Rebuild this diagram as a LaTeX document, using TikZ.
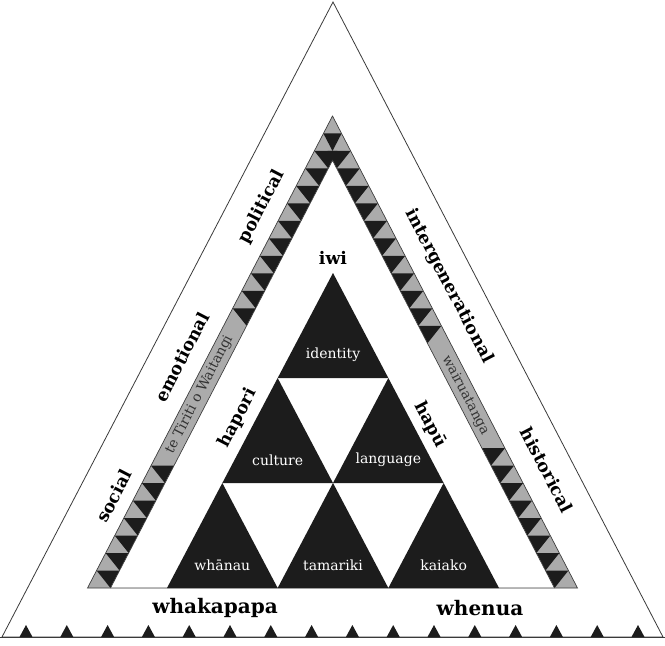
\documentclass[tikz,border=0pt]{standalone}
\usepackage{fontspec}
\setmainfont{DejaVu Serif}
\definecolor{bandgray}{HTML}{ABABAB}
\definecolor{tribl}{HTML}{1C1C1C}
\definecolor{edgegray}{HTML}{3A3A3A}
\tikzset{
  boldlbl/.style={font=\bfseries\fontsize{13}{13}\selectfont, inner sep=0pt},
  baselbl/.style={font=\bfseries\fontsize{15}{15}\selectfont, inner sep=0pt},
  lside/.style={boldlbl, rotate=62.57},
  rside/.style={boldlbl, rotate=-62.57},
  trilbl/.style={text=white, font=\fontsize{10.5}{10.5}\selectfont, inner sep=0pt},
  bandlbl/.style={text=black!80, font=\fontsize{10.3}{10.3}\selectfont, inner sep=0pt},
}
\begin{document}
\begin{tikzpicture}[x=0.75pt, y=-0.75pt]
\useasboundingbox (0,0) rectangle (665,646);
% outer frame
\draw[edgegray, line width=0.6pt] (333,2) -- (2,637) -- (663,637) -- cycle;
\draw[edgegray, line width=0.6pt] (0,637) -- (665,637);
\foreach \i in {0,...,15}
  \fill[tribl] ({26+40.8*\i-6.5},637) -- ({26+40.8*\i},625) -- ({26+40.8*\i+6.5},637) -- cycle;
% band
\fill[bandgray] (332.5,116) -- (87.5,588) -- (577.5,588) -- cycle;
\fill[tribl] (323.43,133.48) -- (341.57,133.48) -- (332.5,150.96) -- cycle;
\foreach \k in {2,3,4,5,6,7,8,9,10,11,20,21,22,23,24,25,26}{
  \pgfmathsetmacro{\ya}{116+\k*17.4815}
  \pgfmathsetmacro{\yb}{\ya+17.4815}
  \pgfmathsetmacro{\xa}{332.5-0.5191*(\ya-116)}
  \pgfmathsetmacro{\xb}{332.5-0.5191*(\yb-116)}
  \fill[tribl] (\xa,\ya) -- (\xa+23,\ya) -- (\xb+23,\yb) -- cycle;
}
\foreach \k in {2,3,4,5,6,7,8,9,10,11,12,19,20,21,22,23,24,25,26}{
  \pgfmathsetmacro{\ya}{116+\k*17.4815}
  \pgfmathsetmacro{\yb}{\ya+17.4815}
  \pgfmathsetmacro{\xa}{332.5+0.5191*(\ya-116)}
  \pgfmathsetmacro{\xb}{332.5+0.5191*(\yb-116)}
  \fill[tribl] (\xa,\ya) -- (\xa-23,\ya) -- (\xb-23,\yb) -- cycle;
}
\fill[white] (332.5,160.3) -- (110.5,588) -- (554.5,588) -- cycle;
\draw[edgegray, line width=0.5pt] (332.5,116) -- (87.5,588) -- (577.5,588) -- cycle;
\draw[edgegray, line width=0.5pt] (110.5,588) -- (332.5,160.3) -- (554.5,588);
\node[bandlbl, rotate=62.57] (tiriti) at (199.5,394.5) {te Tiriti o Waitangi};
\node[bandlbl, rotate=-62.57] (wairua) at (465.5,395.5) {wairuatanga};
% inner triangles
\foreach \r/\j/\lab in {0/0/identity, 1/0/culture, 1/1/language, 2/0/whānau, 2/1/tamariki, 2/2/kaiako}{
  \pgfmathsetmacro{\ax}{333+(\j-\r/2)*110.67}
  \pgfmathsetmacro{\ay}{273+\r*105}
  \fill[tribl] (\ax,\ay) -- (\ax-55.33,\ay+105) -- (\ax+55.33,\ay+105) -- cycle;
  \node[trilbl] (t\r\j) at (\ax,\ay+82) {\lab};
}
% labels
\node[boldlbl] (iwi) at (333,258) {iwi};
\node[lside] (hapori) at (238,418) {hapori};
\node[rside] (hapu) at (430,425) {hapū};
\node[baselbl] (whakapapa) at (215,608) {whakapapa};
\node[baselbl] (whenua) at (480,608) {whenua};
\node[lside] (social) at (114,496) {social};
\node[lside] (emotional) at (182,357) {emotional};
\node[lside] (political) at (262,207) {political};
\node[rside] (intergen) at (449,286) {intergenerational};
\node[rside] (historical) at (547,470) {historical};
\end{tikzpicture}
\end{document}
